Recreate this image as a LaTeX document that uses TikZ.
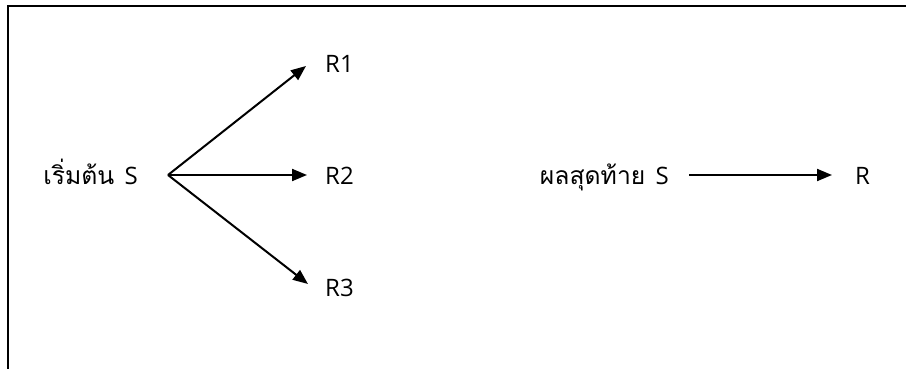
\documentclass[tikz,border=0pt]{standalone}
\usepackage{fontspec}
\setmainfont{Open Sans}
\newfontfamily\thaifont[Script=Thai,Scale=1.03]{Loma}
\usetikzlibrary{arrows.meta}

\tikzset{
  lbl/.style={inner sep=0pt,font=\fontsize{24}{28}\selectfont},
  arr/.style={line width=2pt,-{Triangle[length=15pt,width=12pt]}}
}

\begin{document}
\begin{tikzpicture}[x=1pt,y=-1pt]
\useasboundingbox (0,0) rectangle (906,369);
% frame
\draw[line width=2pt] (906,6) -- (8,6) -- (8,369);

% left: one start, three results
\node[lbl,anchor=base east] (start) at (138,184) {{\thaifont เริ่มต้น}\, S};
\coordinate (fork) at (168,175);
\node[lbl,anchor=base west] (r1) at (325,73) {R1};
\node[lbl,anchor=base west] (r2) at (325,184) {R2};
\node[lbl,anchor=base west] (r3) at (325,296) {R3};
\coordinate (t1) at (306,66);
\coordinate (t2) at (307,175);
\coordinate (t3) at (308,284);
\draw[arr] (fork) -- (t1);
\draw[arr] (fork) -- (t2);
\draw[arr] (fork) -- (t3);

% right: end result
\node[lbl,anchor=base east] (final) at (669,184) {{\thaifont ผลสุดท้าย}\, S};
\node[lbl,anchor=base west] (r) at (855,184) {R};
\coordinate (a) at (689,175);
\coordinate (b) at (832,175);
\draw[arr] (a) -- (b);

\end{tikzpicture}
\end{document}
